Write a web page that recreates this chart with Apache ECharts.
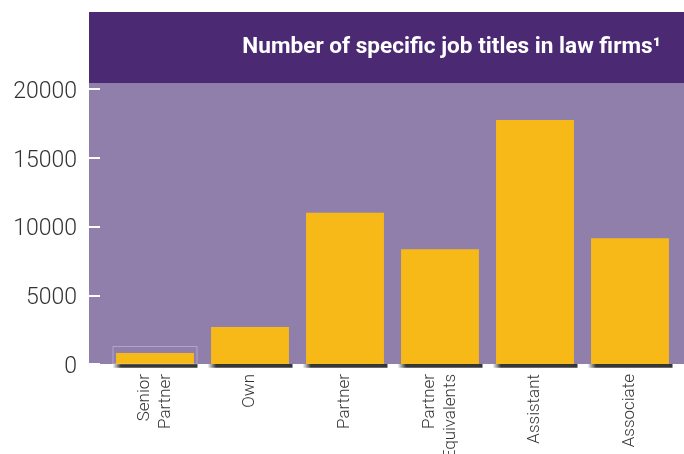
<!DOCTYPE html>
<html>
<head>
<meta charset="utf-8">
<script src="https://cdn.jsdelivr.net/npm/echarts@6/dist/echarts.min.js"></script>
<style>
html,body{margin:0;padding:0;background:#fff;}
#chart{width:684px;height:454px;}
</style>
</head>
<body>
<div id="chart"></div>
<script>
const titleText = 'Number of specific job titles in law firms\u00b9';
const categories = ['Senior\nPartner', 'Own', 'Partner', 'Partner\nEquivalents', 'Assistant', 'Associate'];
const jobCounts = [800, 2700, 11000, 8350, 17750, 9150];
const highlighted = [[0, 800]];
const yTicks = { min: 0, max: 20000, interval: 5000 };

const chart = echarts.init(document.getElementById('chart'), null, { renderer: 'canvas' });

const stripGradient = new echarts.graphic.LinearGradient(0, 0, 1, 0, [
  { offset: 0, color: 'rgba(51,51,51,0)' },
  { offset: 0.1, color: '#363636' },
  { offset: 1, color: '#363636' }
]);

chart.setOption({
  animation: false,
  backgroundColor: '#ffffff',
  title: {
    text: titleText,
    right: 23,
    top: 36,
    padding: 0,
    textStyle: { color: '#ffffff', fontFamily: 'Roboto', fontWeight: 'bold', fontSize: 22.6 }
  },
  graphic: [
    { type: 'rect', z: -10, shape: { x: 89, y: 12, width: 595, height: 71 }, style: { fill: '#4b2a73' } },
    { type: 'rect', z: -10, shape: { x: 89, y: 83, width: 595, height: 281 }, style: { fill: '#917fab' } }
  ],
  grid: { left: 107.5, right: 6.5, top: 89, bottom: 90, containLabel: false, outerBoundsMode: 'none' },
  xAxis: {
    type: 'category',
    data: categories,
    axisLine: { show: false },
    axisTick: { show: false },
    axisLabel: {
      rotate: 90,
      interval: 0,
      margin: 10,
      color: '#333333',
      fontFamily: 'Roboto',
      fontWeight: 300,
      fontSize: 17,
      lineHeight: 21
    }
  },
  yAxis: {
    type: 'value',
    min: yTicks.min,
    max: yTicks.max,
    interval: yTicks.interval,
    offset: 18.5,
    splitLine: { show: false },
    axisLine: { show: false },
    axisTick: { show: true, inside: true, length: 11, lineStyle: { color: '#ffffff', width: 2 } },
    axisLabel: {
      margin: 12,
      color: '#333333',
      fontFamily: 'Roboto',
      fontWeight: 300,
      fontSize: 23,
      verticalAlign: 'top',
      lineHeight: 6,
      formatter: function (v) { return String(v); }
    }
  },
  series: [
    {
      type: 'bar',
      data: jobCounts,
      barWidth: '82%',
      itemStyle: { color: '#f7b918' },
      z: 2
    },
    {
      type: 'custom',
      clip: false,
      z: 3,
      data: categories.map((c, i) => [i, 0]),
      renderItem: function (params, api) {
        const p = api.coord([api.value(0), 0]);
        const bw = api.size([1, 0])[0];
        const w = bw * 0.895;
        return {
          type: 'rect',
          shape: { x: p[0] - w / 2, y: p[1], width: w, height: 3.7 },
          style: { fill: stripGradient }
        };
      }
    },
    {
      type: 'custom',
      clip: false,
      z: 4,
      data: highlighted,
      renderItem: function (params, api) {
        const top = api.coord([api.value(0), api.value(1)]);
        const base = api.coord([api.value(0), 0]);
        const bw = api.size([1, 0])[0];
        const w = bw * 0.895;
        return {
          type: 'rect',
          shape: { x: top[0] - w / 2 + 0.5, y: top[1] - 6.5, width: w - 1, height: base[1] - top[1] + 6.5 },
          style: { fill: 'none', stroke: 'rgba(255,255,255,0.3)', lineWidth: 1 }
        };
      }
    }
  ]
});
</script>
</body>
</html>
